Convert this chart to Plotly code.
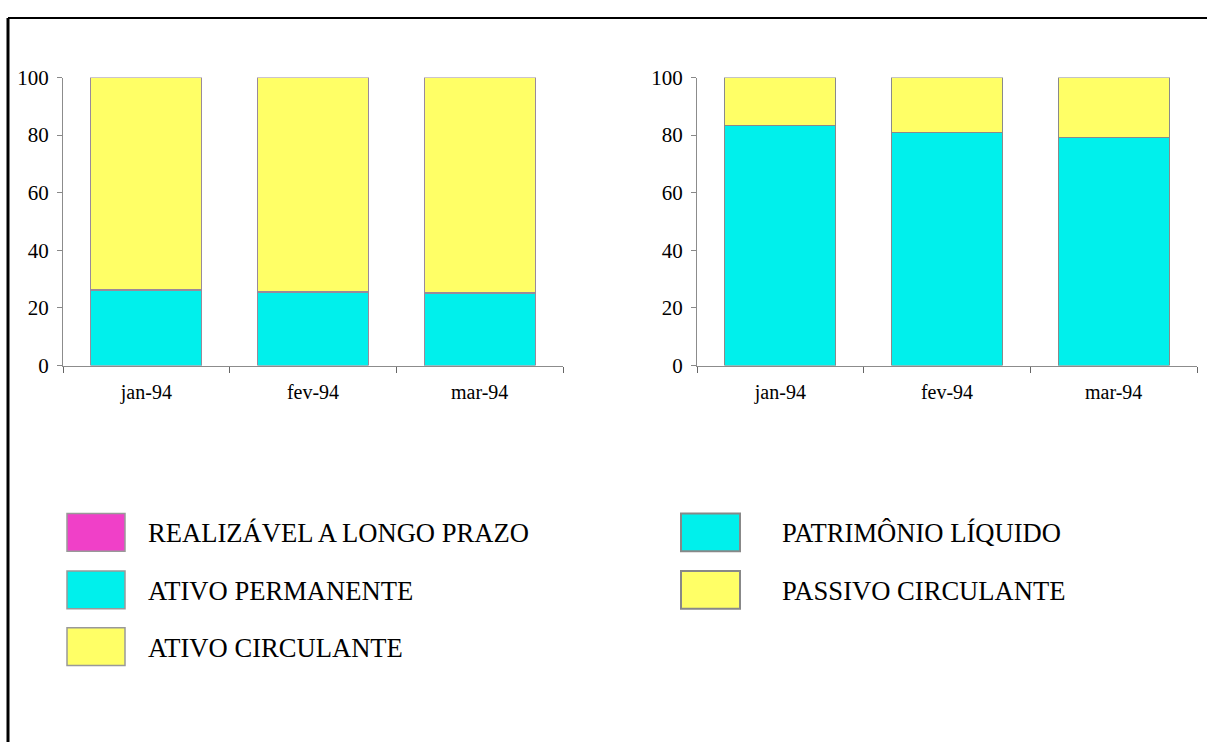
import plotly.graph_objects as go

months = ["jan-94", "fev-94", "mar-94"]

# Left chart (ativo)
ativo_permanente = [26.1, 25.2, 25.1]
realizavel_lp = [0.35, 0.35, 0.35]
ativo_circulante = [73.55, 74.45, 74.55]

# Right chart (passivo)
patrimonio_liquido = [83.4, 80.8, 79.1]
passivo_circulante = [16.6, 19.2, 20.9]

y_ticks = [0, 20, 40, 60, 80, 100]

CYAN = "#00F0EC"
YELLOW = "#FFFF66"
MAGENTA = "#F040C8"

left_series = [
    ("ATIVO PERMANENTE", ativo_permanente, CYAN),
    ("REALIZÁVEL A LONGO PRAZO", realizavel_lp, MAGENTA),
    ("ATIVO CIRCULANTE", ativo_circulante, YELLOW),
]
right_series = [
    ("PATRIMÔNIO LÍQUIDO", patrimonio_liquido, CYAN),
    ("PASSIVO CIRCULANTE", passivo_circulante, YELLOW),
]

left_legend = [("REALIZÁVEL A LONGO PRAZO", MAGENTA), ("ATIVO PERMANENTE", CYAN), ("ATIVO CIRCULANTE", YELLOW)]
right_legend = [("PATRIMÔNIO LÍQUIDO", CYAN), ("PASSIVO CIRCULANTE", YELLOW)]

W, H = 1207, 754
FONT = "Liberation Serif"

fig = go.Figure()
xs = list(range(len(months)))
for name, vals, col in left_series:
    fig.add_trace(go.Bar(x=xs, y=vals, name=name, marker=dict(color=col, line=dict(color="#9a8a9a", width=1)),
                         width=0.665, xaxis="x", yaxis="y", showlegend=False))
for name, vals, col in right_series:
    fig.add_trace(go.Bar(x=xs, y=vals, name=name, marker=dict(color=col, line=dict(color="#8a8a8a", width=1)),
                         width=0.665, xaxis="x2", yaxis="y2", showlegend=False))

def px_x(p):
    return p / W

# vertical compensation for the observed render offset/scale
OY, KY = 9.0, 0.975

def px_y(p):
    q = (p - OY) / KY
    return 1 - q / H

axis_common_x = dict(range=[-0.5, 2.5], tickvals=xs, ticktext=months, ticks="", showgrid=False, zeroline=False,
                     showline=True, linecolor="#8c8c8c", linewidth=1,
                     tickfont=dict(family=FONT, size=20, color="black"), ticklabelstandoff=8,
                     minor=dict(ticks="outside", tick0=0.5, dtick=1, ticklen=6, tickcolor="#666"),
                     fixedrange=True)
axis_common_y = dict(range=[0, 100], tickvals=y_ticks, ticks="outside", ticklen=5, tickcolor="#888",
                     showgrid=False, zeroline=False, showline=True, linecolor="#8c8c8c", linewidth=1,
                     tickfont=dict(family=FONT, size=21, color="black"), ticklabelstandoff=4, fixedrange=True)

fig.update_layout(
    width=W, height=H, margin=dict(l=0, r=0, t=0, b=0),
    paper_bgcolor="white", plot_bgcolor="white", barmode="stack",
    xaxis=dict(domain=[px_x(63), px_x(563)], anchor="y", **axis_common_x),
    yaxis=dict(domain=[px_y(365), px_y(75)], anchor="x", **axis_common_y),
    xaxis2=dict(domain=[px_x(697), px_x(1197)], anchor="y2", **axis_common_x),
    yaxis2=dict(domain=[px_y(365), px_y(75)], anchor="x2", **axis_common_y),
)

shapes = []
annotations = []
# Frame: top and left borders
shapes.append(dict(type="line", xref="paper", yref="paper", x0=px_x(8), x1=1.0, y0=px_y(15), y1=px_y(15),
                   line=dict(color="black", width=2)))
shapes.append(dict(type="line", xref="paper", yref="paper", x0=px_x(8), x1=px_x(8), y0=px_y(15), y1=0,
                   line=dict(color="black", width=3)))

row_tops = [514, 572, 629]
for (label, col), top in zip(left_legend, row_tops):
    shapes.append(dict(type="rect", xref="paper", yref="paper", x0=px_x(67), x1=px_x(125),
                       y0=px_y(top + 38), y1=px_y(top), fillcolor=col, line=dict(color="#999", width=1.5)))
    annotations.append(dict(x=px_x(146), y=px_y(top + 20), xref="paper", yref="paper", text=label,
                            showarrow=False, xanchor="left", yanchor="middle",
                            font=dict(family=FONT, size=26.6, color="black")))
for (label, col), top in zip(right_legend, row_tops):
    shapes.append(dict(type="rect", xref="paper", yref="paper", x0=px_x(681), x1=px_x(740),
                       y0=px_y(top + 38), y1=px_y(top), fillcolor=col, line=dict(color="#888", width=2)))
    annotations.append(dict(x=px_x(780), y=px_y(top + 20), xref="paper", yref="paper", text=label,
                            showarrow=False, xanchor="left", yanchor="middle",
                            font=dict(family=FONT, size=26.6, color="black")))

fig.update_layout(shapes=shapes, annotations=annotations)
fig.write_html("out.html")
